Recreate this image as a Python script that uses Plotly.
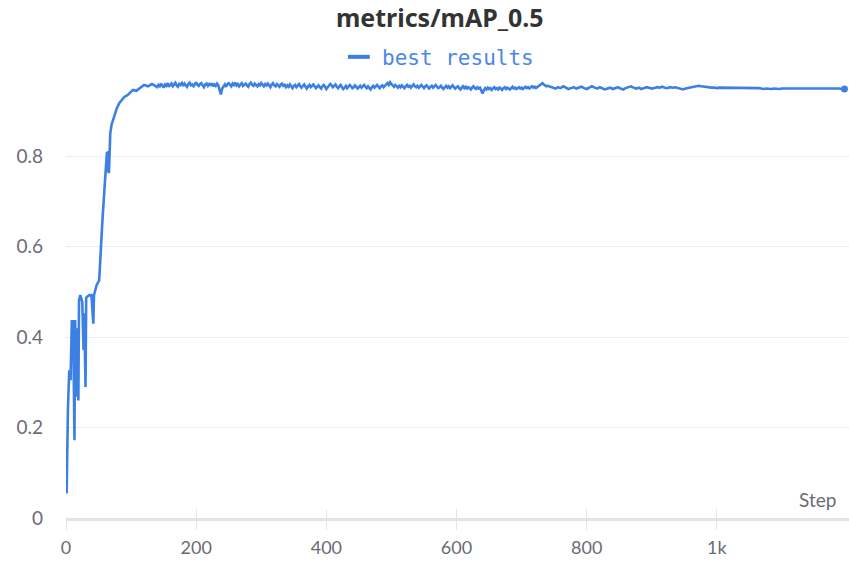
import plotly.graph_objects as go

# ---------------- data ----------------
early_steps = [0, 1, 3, 5, 7, 9, 10, 11, 13, 14, 16, 17, 19, 20, 22, 25, 27, 28, 30, 31,
               33, 36, 39, 42, 43, 45, 47, 51, 53, 56, 60, 63, 64, 65, 66, 68, 70, 73, 75, 78,
               82, 86, 90, 94, 98, 103, 108, 114, 120, 126, 132, 136]
early_map = [0.055, 0.057, 0.243, 0.327, 0.305, 0.438, 0.365, 0.438, 0.172, 0.438,
             0.268, 0.42, 0.26, 0.482, 0.493, 0.478, 0.372, 0.453, 0.29, 0.487,
             0.49, 0.493, 0.493, 0.43, 0.493, 0.505, 0.515, 0.526, 0.586, 0.659,
             0.748, 0.81, 0.765, 0.812, 0.763, 0.851, 0.87, 0.884, 0.89, 0.906,
             0.918, 0.925, 0.932, 0.935, 0.94, 0.947, 0.945, 0.952, 0.958, 0.955,
             0.96, 0.957]

# noisy plateau, every 2 steps from 140 to 738
plateau_a_start = 140
plateau_a_stride = 2
plateau_a_map = [
    0.953, 0.958, 0.955, 0.961, 0.957, 0.952, 0.959, 0.956, 0.962, 0.954, 0.958, 0.961, 0.955, 0.959, 0.963, 0.957, 0.954, 0.960, 0.958, 0.962,
    0.956, 0.961, 0.958, 0.954, 0.960, 0.963, 0.957, 0.959, 0.955, 0.961, 0.964, 0.958, 0.956, 0.960, 0.962, 0.957, 0.953, 0.959, 0.961, 0.956,
    0.960, 0.958, 0.962, 0.955, 0.959, 0.956, 0.961, 0.957, 0.948, 0.937, 0.950, 0.956, 0.959, 0.954, 0.960, 0.962, 0.957, 0.955, 0.961, 0.958,
    0.963, 0.957, 0.960, 0.955, 0.959, 0.962, 0.956, 0.958, 0.961, 0.957, 0.954, 0.960, 0.963, 0.958, 0.956, 0.961, 0.959, 0.955, 0.960, 0.957,
    0.962, 0.958, 0.955, 0.960, 0.957, 0.961, 0.956, 0.953, 0.959, 0.962, 0.957, 0.955, 0.960, 0.958, 0.954, 0.959, 0.961, 0.956, 0.958, 0.953,
    0.957, 0.954, 0.959, 0.955, 0.951, 0.956, 0.958, 0.953, 0.957, 0.960, 0.955, 0.952, 0.956, 0.959, 0.954, 0.950, 0.955, 0.958, 0.953, 0.956,
    0.959, 0.955, 0.951, 0.954, 0.957, 0.953, 0.950, 0.955, 0.958, 0.954, 0.949, 0.953, 0.956, 0.960, 0.957, 0.953, 0.956, 0.959, 0.954, 0.951,
    0.955, 0.958, 0.953, 0.949, 0.952, 0.956, 0.951, 0.954, 0.958, 0.955, 0.951, 0.953, 0.957, 0.954, 0.950, 0.953, 0.956, 0.952, 0.955, 0.958,
    0.954, 0.951, 0.955, 0.952, 0.948, 0.953, 0.956, 0.952, 0.955, 0.958, 0.954, 0.951, 0.955, 0.957, 0.953, 0.956, 0.959, 0.962, 0.958, 0.964,
    0.960, 0.957, 0.954, 0.958, 0.955, 0.952, 0.956, 0.953, 0.957, 0.954, 0.951, 0.955, 0.958, 0.954, 0.956, 0.952, 0.955, 0.959, 0.955, 0.953,
    0.956, 0.952, 0.955, 0.958, 0.954, 0.951, 0.955, 0.957, 0.953, 0.950, 0.954, 0.956, 0.952, 0.955, 0.958, 0.954, 0.951, 0.953, 0.956, 0.952,
    0.949, 0.953, 0.956, 0.952, 0.955, 0.951, 0.954, 0.957, 0.953, 0.950, 0.953, 0.955, 0.951, 0.948, 0.952, 0.955, 0.951, 0.954, 0.950, 0.953,
    0.951, 0.948, 0.952, 0.955, 0.951, 0.949, 0.953, 0.950, 0.952, 0.947, 0.939, 0.946, 0.951, 0.948, 0.952, 0.949, 0.951, 0.947, 0.950, 0.953,
    0.949, 0.951, 0.948, 0.952, 0.950, 0.947, 0.951, 0.953, 0.949, 0.952, 0.950, 0.948, 0.951, 0.954, 0.950, 0.952, 0.949, 0.951, 0.953, 0.950,
    0.952, 0.949, 0.951, 0.954, 0.951, 0.953, 0.950, 0.952, 0.955, 0.952, 0.954, 0.951, 0.953, 0.956, 0.958, 0.960, 0.962, 0.959, 0.957, 0.955,
]

# smoother tail, every 4 steps from 740 to 1196
plateau_b_start = 740
plateau_b_stride = 4
plateau_b_map = [
    0.956, 0.954, 0.952, 0.950, 0.953, 0.951, 0.955, 0.952, 0.949, 0.951, 0.953, 0.950, 0.952,
    0.954, 0.951, 0.949, 0.952, 0.955, 0.952, 0.950, 0.953, 0.951, 0.948, 0.950, 0.952,
    0.949, 0.951, 0.953, 0.950, 0.948, 0.951, 0.953, 0.955, 0.952, 0.950, 0.952, 0.949, 0.951,
    0.953, 0.952, 0.950, 0.951, 0.953, 0.952, 0.954, 0.952, 0.951, 0.953, 0.952, 0.953,
    0.951, 0.949, 0.948, 0.950, 0.951, 0.952, 0.954, 0.955, 0.956, 0.955, 0.954, 0.953, 0.953,
    0.952, 0.952, 0.951, 0.952, 0.952, 0.951, 0.952, 0.952, 0.951, 0.952, 0.952, 0.951,
    0.952, 0.951, 0.952, 0.951, 0.951, 0.952, 0.951, 0.950, 0.949, 0.950, 0.949, 0.949, 0.950,
    0.949, 0.949, 0.950, 0.950, 0.950, 0.951, 0.950, 0.950, 0.951, 0.950, 0.951, 0.951, 0.951,
    0.950, 0.951, 0.951, 0.950, 0.951, 0.951, 0.950, 0.951, 0.950, 0.950, 0.951, 0.950, 0.949,
    0.949,
]

x_tick_vals = [0, 200, 400, 600, 800, 1000]
x_tick_text = ["0", "200", "400", "600", "800", "1k"]
y_tick_vals = [0, 0.2, 0.4, 0.6, 0.8]
y_tick_text = ["0", "0.2", "0.4", "0.6", "0.8"]

series_name = "best results"
chart_title = "metrics/mAP_0.5"
x_title = "Step"

# ---------------- build ----------------
steps_a = [plateau_a_start + plateau_a_stride * i for i in range(len(plateau_a_map))]
steps_b = [plateau_b_start + plateau_b_stride * i for i in range(len(plateau_b_map))]
steps = early_steps + steps_a + steps_b
values = early_map + plateau_a_map + plateau_b_map

LINE = "#3b80e2"
GRAY = "#6b6b76"
AXIS = "#e4e4e6"
FONT = "Lato, 'Noto Sans', sans-serif"

fig = go.Figure()
fig.add_trace(go.Scatter(x=steps, y=values, mode="lines", name=series_name,
                         line=dict(color=LINE, width=2.6), showlegend=False))
fig.add_trace(go.Scatter(x=[steps[-1]], y=[values[-1]], mode="markers",
                         marker=dict(color=LINE, size=7), showlegend=False, hoverinfo="skip"))
# invisible trace so the overlay axis (inner half of the ticks) is drawn
fig.add_trace(go.Scatter(x=[0], y=[0], xaxis="x2", mode="markers",
                         marker=dict(opacity=0), showlegend=False, hoverinfo="skip"))

fig.update_layout(
    width=849, height=561,
    margin=dict(l=66, r=0, t=75, b=43, autoexpand=False),
    paper_bgcolor="white", plot_bgcolor="white",
    font=dict(family=FONT, color=GRAY, size=19),
    title=dict(text="<b>" + chart_title + "</b>", x=0.518, xanchor="center",
               xref="container", y=0.968, yanchor="middle",
               font=dict(family="'Noto Sans', Lato, sans-serif", size=25, color="#333333")),
    showlegend=False,
    xaxis=dict(range=[0, 1203], tickvals=x_tick_vals, ticktext=x_tick_text,
               showgrid=False, zeroline=False, showline=True, linecolor=AXIS,
               linewidth=3, ticks="outside", ticklen=9, tickwidth=1, tickcolor=AXIS,
               ticklabelstandoff=2, automargin=False, tickfont=dict(size=18, color=GRAY)),
    xaxis2=dict(range=[0, 1203], overlaying="x", matches="x", tickvals=x_tick_vals,
                showticklabels=False, showgrid=False, zeroline=False, showline=False,
                ticks="inside", ticklen=9, tickwidth=1, tickcolor=AXIS, side="bottom"),
    yaxis=dict(range=[0, 0.98], tickvals=y_tick_vals, ticktext=y_tick_text,
               showgrid=True, gridcolor="#ececee", gridwidth=1, zeroline=False,
               showline=False, ticks="", ticklabelstandoff=22, automargin=False,
               tickfont=dict(size=19, color=GRAY)),
)

# legend drawn as text with a short dash
fig.add_annotation(text=series_name, xref="paper", yref="paper", x=0.401, y=1.038,
                   xanchor="left", yanchor="middle", showarrow=False,
                   font=dict(family="'DejaVu Sans Mono', monospace", size=21, color="#4a88e4"))
fig.add_shape(type="line", xref="paper", yref="paper", x0=0.360, x1=0.388,
              y0=1.041, y1=1.041, line=dict(color=LINE, width=4))
fig.add_annotation(text=x_title, xref="paper", yref="paper", x=0.986, y=0.0,
                   xanchor="right", yanchor="bottom", yshift=5, showarrow=False,
                   font=dict(size=19, color=GRAY))

fig.write_html("out.html", config={"displayModeBar": False},
               post_script="document.body.style.margin='0';")
